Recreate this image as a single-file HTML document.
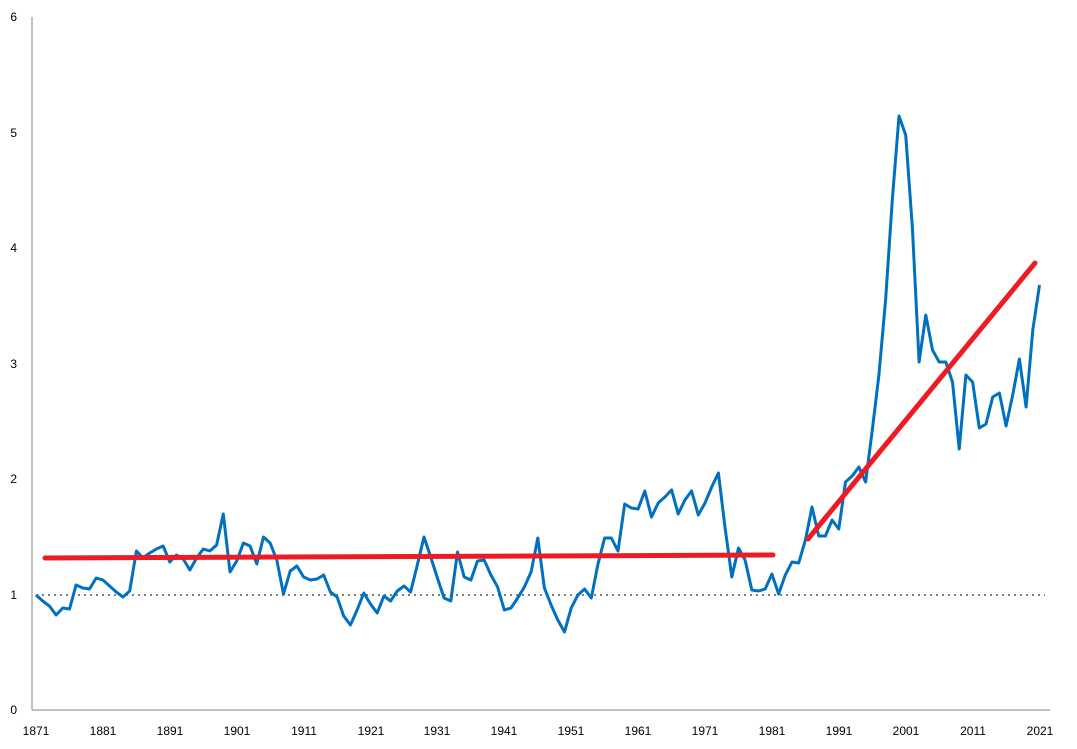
<!DOCTYPE html><html><head><style>body{margin:0;background:#fff}svg{display:block}text{font-family:"Liberation Sans",sans-serif;font-size:12px;fill:#000}</style></head><body>
<svg width="1077" height="749" xmlns="http://www.w3.org/2000/svg">
<line x1="32" y1="17" x2="32" y2="710" stroke="#868686" stroke-width="1"/>
<line x1="32" y1="710" x2="1050" y2="710" stroke="#868686" stroke-width="1"/>
<g text-anchor="end">
<text x="17" y="714">0</text><text x="17" y="599">1</text><text x="17" y="483">2</text><text x="17" y="368">3</text><text x="17" y="252">4</text><text x="17" y="137">5</text><text x="17" y="21">6</text></g>
<g text-anchor="middle">
<text x="36" y="735">1871</text><text x="103" y="735">1881</text><text x="170" y="735">1891</text><text x="237" y="735">1901</text><text x="304" y="735">1911</text><text x="371" y="735">1921</text><text x="437" y="735">1931</text><text x="504" y="735">1941</text><text x="571" y="735">1951</text><text x="638" y="735">1961</text><text x="705" y="735">1971</text><text x="772" y="735">1981</text><text x="839" y="735">1991</text><text x="906" y="735">2001</text><text x="973" y="735">2011</text><text x="1040" y="735">2021</text></g>
<line x1="36" y1="595" x2="1045" y2="595" stroke="#7f7f7f" stroke-width="2" stroke-dasharray="2,4"/>
<polyline id="p" fill="none" stroke="#0070c0" stroke-width="3" stroke-linejoin="round"/>
<line x1="45" y1="558" x2="773" y2="555" stroke="#ed1c24" stroke-width="5" stroke-linecap="round"/>
<line x1="808" y1="539" x2="1035" y2="263" stroke="#ed1c24" stroke-width="5" stroke-linecap="round"/>
</svg>
<script>
var v=[595,601,606,615,608,609,585,588,589,578,580,586,592,597,591,551,558,553,549,546,562,555,559,570,558,549,551,545,514,572,561,543,546,564,537,543,560,594,571,566,577,580,579,575,592,597,616,625,610,593,604,613,596,601,591,586,592,565,537,557,578,598,601,552,577,580,561,560,575,587,610,608,598,587,572,538,588,605,620,632,608,595,589,598,564,538,538,551,504,508,509,491,517,503,497,490,514,500,491,515,503,487,473,528,577,548,560,590,591,589,574,594,575,562,563,540,507,536,536,520,529,482,476,467,482,430,375,300,200,116,135,228,362,315,350,362,362,382,449,375,382,428,424,397,393,426,395,359,407,330,285];
document.getElementById('p').setAttribute('points',v.map(function(y,i){return (36+i*6.69).toFixed(1)+','+y}).join(' '));
</script>
</body></html>
